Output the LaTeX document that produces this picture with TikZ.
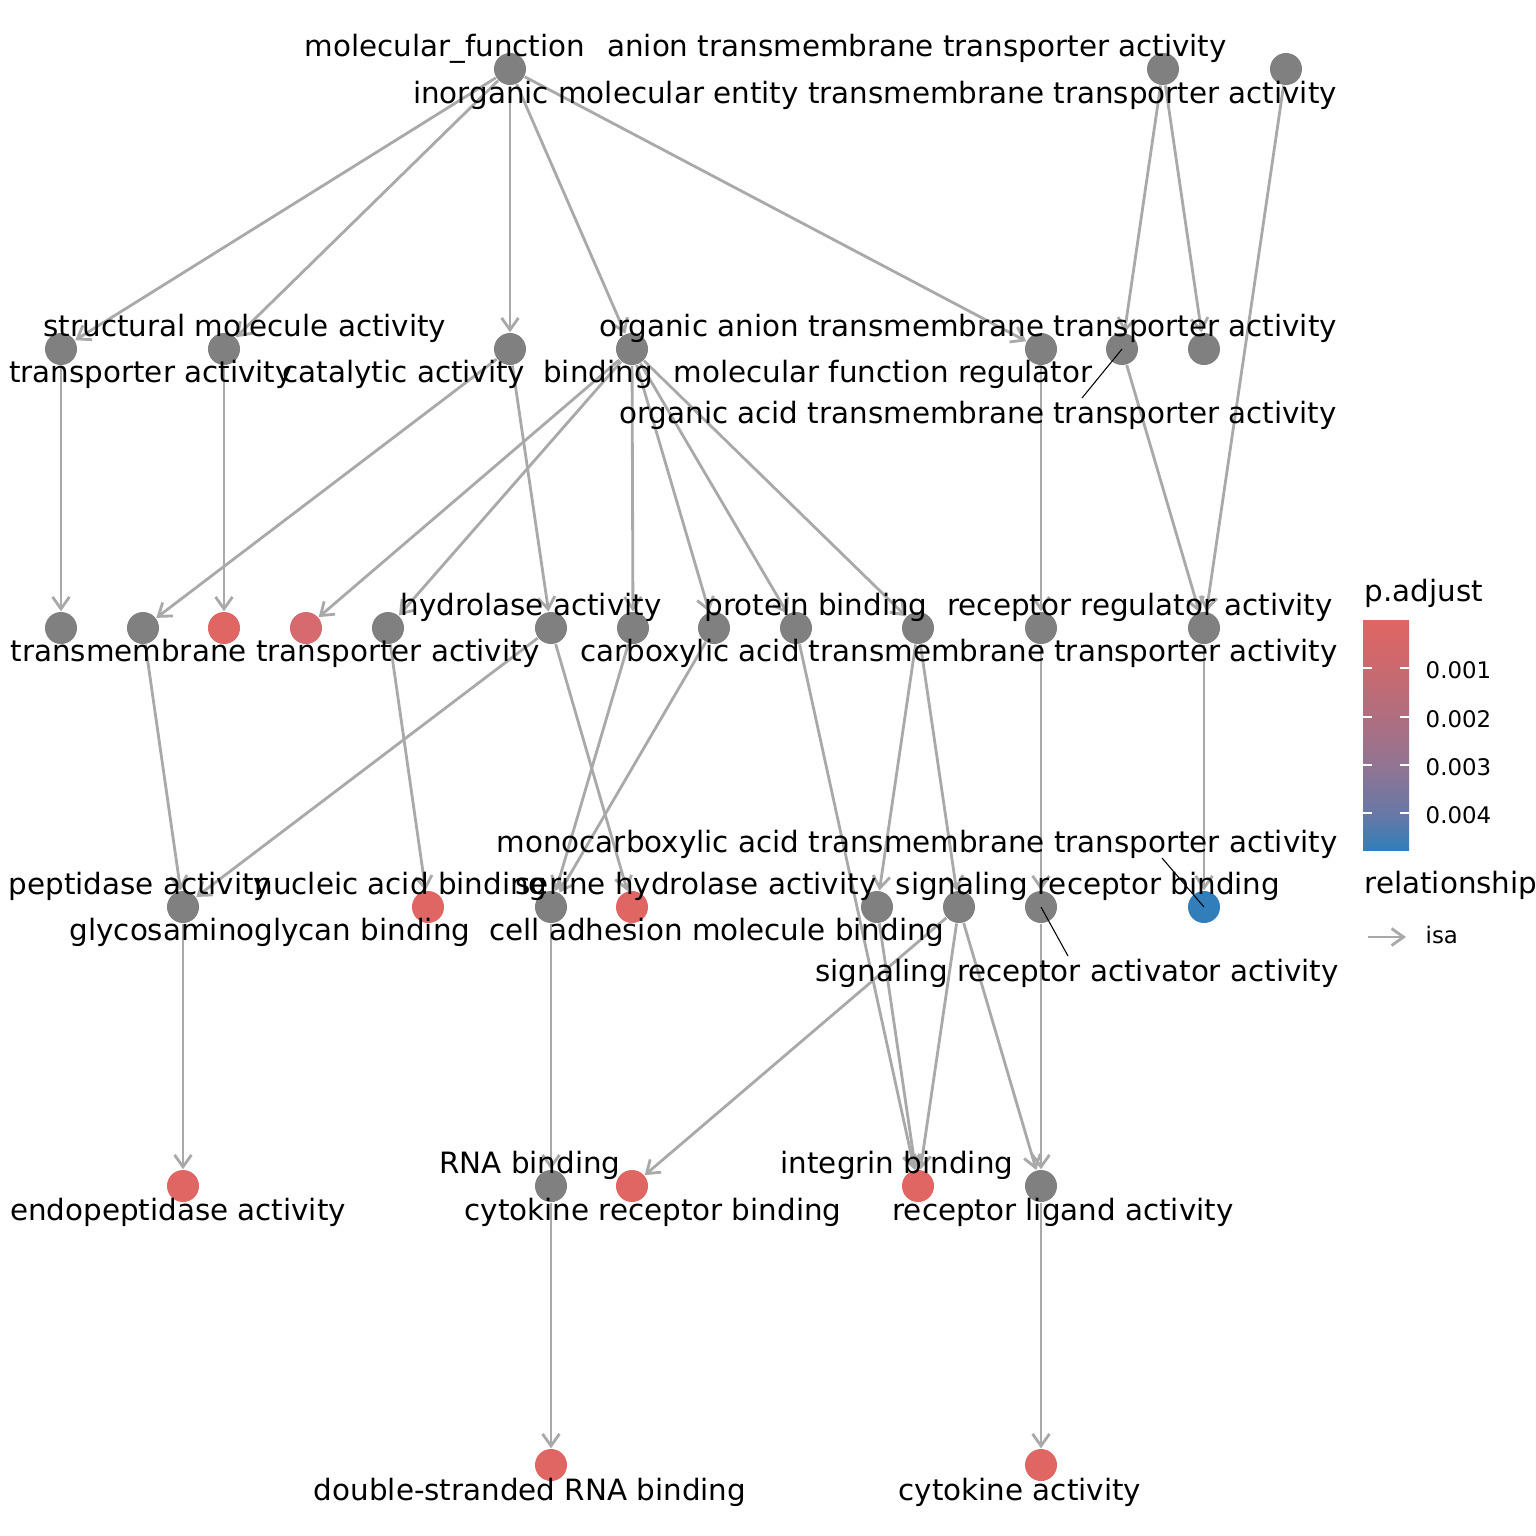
\documentclass[tikz,border=0pt]{standalone}
\usepackage{fontspec}
\setmainfont{DejaVu Sans}
\usetikzlibrary{arrows.meta,backgrounds}
\definecolor{nodegray}{HTML}{808080}
\definecolor{edgegray}{HTML}{A9A9A9}
\definecolor{sigred}{HTML}{E06663}
\definecolor{sigpink}{HTML}{D76A6F}
\definecolor{sigblue}{HTML}{327EBA}
\definecolor{barA}{RGB}{104,120,166}
\definecolor{barB}{RGB}{146,116,147}
\definecolor{barC}{RGB}{175,110,128}
\definecolor{barD}{RGB}{202,105,111}
\pgfdeclareverticalshading{pbar}{100bp}{color(0bp)=(sigblue); color(25bp)=(sigblue); color(33bp)=(barA); color(43.5bp)=(barB); color(54bp)=(barC); color(64.5bp)=(barD); color(75bp)=(sigred); color(100bp)=(sigred)}
\begin{document}
\begin{tikzpicture}[x=0.01cm,y=-0.01cm,
  term/.style={circle,fill=nodegray,minimum size=0.32cm,inner sep=0pt},
  red/.style={fill=sigred},
  lbl/.style={anchor=base,inner sep=0pt,font=\fontsize{8.35}{10}\selectfont},
  leglbl/.style={anchor=base west,inner sep=0pt,font=\fontsize{8.35}{10}\selectfont},
  ticklbl/.style={anchor=base west,inner sep=0pt,font=\fontsize{6.5}{8}\selectfont},
  edge/.style={draw=edgegray,line width=0.8pt,-{Straight Barb[length=3.4pt,width=4.8pt]}},
  leader/.style={draw=black,line width=0.3pt},
  tickmark/.style={draw=white,line width=0.3pt}
  ]
\useasboundingbox (0,0) rectangle (1536,1536);
% ---------- nodes ----------
% layer 0
\node[term] (mf)    at (510,69) {};
\node[term] (ant)   at (1163,69) {};
\node[term] (inorg) at (1286,69) {};
% layer 1
\node[term] (a1) at (61,349) {};
\node[term] (a2) at (224,349) {};
\node[term] (a3) at (510,349) {};
\node[term] (a4) at (632,349) {};
\node[term] (a5) at (1041,349) {};
\node[term] (a6) at (1122,349) {};
\node[term] (a7) at (1204,349) {};
% layer 2
\node[term] (b1) at (61,628) {};
\node[term] (b2) at (143,628) {};
\node[term,red] (b3) at (224,628) {};
\node[term,fill=sigpink] (b4) at (306,628) {};
\node[term] (b5) at (388,628) {};
\node[term] (b6) at (551,628) {};
\node[term] (b7) at (633,628) {};
\node[term] (b8) at (714,628) {};
\node[term] (b9) at (796,628) {};
\node[term] (b10) at (918,628) {};
\node[term] (b11) at (1041,628) {};
\node[term] (b12) at (1204,628) {};
% layer 3
\node[term] (c1) at (183,907) {};
\node[term,red] (c2) at (428,907) {};
\node[term] (c3) at (551,907) {};
\node[term,red] (c4) at (632,907) {};
\node[term] (c5) at (877,907) {};
\node[term] (c6) at (959,907) {};
\node[term] (c7) at (1041,907) {};
\node[term,fill=sigblue] (c8) at (1204,907) {};
% layer 4
\node[term,red] (d1) at (183,1186) {};
\node[term] (d2) at (551,1186) {};
\node[term,red] (d3) at (632,1186) {};
\node[term,red] (d4) at (918,1186) {};
\node[term] (d5) at (1041,1186) {};
% layer 5
\node[term,red] (e1) at (551,1465) {};
\node[term,red] (e2) at (1041,1465) {};
% ---------- edges ----------
\begin{scope}[on background layer]
\foreach \t in {a1,a2,a3,a4,a5} \draw[edge] (mf) -- (\t);
\draw[edge] (ant) -- (a6);
\draw[edge] (ant) -- (a7);
\draw[edge] (inorg) -- (b12);
\draw[edge] (a1) -- (b1);
\draw[edge] (a2) -- (b3);
\draw[edge] (a3) -- (b2);
\draw[edge] (a3) -- (b6);
\foreach \t in {b4,b5,b7,b8,b9,b10} \draw[edge] (a4) -- (\t);
\draw[edge] (a5) -- (b11);
\draw[edge] (a6) -- (b12);
\draw[edge] (b2) -- (c1);
\draw[edge] (b5) -- (c2);
\draw[edge] (b6) -- (c1);
\draw[edge] (b6) -- (c4);
\draw[edge] (b7) -- (c3);
\draw[edge] (b8) -- (c3);
\draw[edge] (b9) -- (d4);
\draw[edge] (b10) -- (c5);
\draw[edge] (b10) -- (c6);
\draw[edge] (b11) -- (c7);
\draw[edge] (b12) -- (c8);
\draw[edge] (c1) -- (d1);
\draw[edge] (c3) -- (d2);
\draw[edge] (c5) -- (d4);
\draw[edge] (c6) -- (d3);
\draw[edge] (c6) -- (d4);
\draw[edge] (c6) -- (d5);
\draw[edge] (c7) -- (d5);
\draw[edge] (d2) -- (e1);
\draw[edge] (d5) -- (e2);
\end{scope}
% ---------- labels ----------
\node[lbl] (l1)  at (445,56)  {molecular\_function};
\node[lbl] (l2)  at (917,56)  {anion transmembrane transporter activity};
\node[lbl] (l3)  at (875,103) {inorganic molecular entity transmembrane transporter activity};
\node[lbl] (l4)  at (245,336) {structural molecule activity};
\node[lbl] (l5)  at (968,336) {organic anion transmembrane transporter activity};
\node[lbl] (l6)  at (151,382) {transporter activity};
\node[lbl] (l7)  at (404,382) {catalytic activity};
\node[lbl] (l8)  at (598,382) {binding};
\node[lbl] (l9)  at (883,382) {molecular function regulator};
\node[lbl] (l10) at (978,423) {organic acid transmembrane transporter activity};
\node[lbl] (l11) at (531,615) {hydrolase activity};
\node[lbl] (l12) at (816,615) {protein binding};
\node[lbl] (l13) at (1140,615) {receptor regulator activity};
\node[lbl] (l14) at (275,661) {transmembrane transporter activity};
\node[lbl] (l15) at (959,661) {carboxylic acid transmembrane transporter activity};
\node[lbl] (l16) at (917,852) {monocarboxylic acid transmembrane transporter activity};
\node[lbl] (l17) at (140,894) {peptidase activity};
\node[lbl] (l18) at (401,894) {nucleic acid binding};
\node[lbl] (l19) at (696,894) {serine hydrolase activity};
\node[lbl] (l20) at (1088,894) {signaling receptor binding};
\node[lbl] (l21) at (270,940) {glycosaminoglycan binding};
\node[lbl] (l22) at (717,940) {cell adhesion molecule binding};
\node[lbl] (l23) at (1077,981) {signaling receptor activator activity};
\node[lbl] (l24) at (530,1173) {RNA binding};
\node[lbl] (l25) at (897,1173) {integrin binding};
\node[lbl] (l26) at (178,1220) {endopeptidase activity};
\node[lbl] (l27) at (653,1220) {cytokine receptor binding};
\node[lbl] (l28) at (1063,1220) {receptor ligand activity};
\node[lbl] (l29) at (530,1500) {double-stranded RNA binding};
\node[lbl] (l30) at (1020,1500) {cytokine activity};
% leader segments
\coordinate (s10) at (1082,398);
\coordinate (s16) at (1162,858);
\coordinate (s23) at (1068,956);
\draw[leader] (s10) -- (a6.center);
\draw[leader] (s16) -- (c8.center);
\draw[leader] (s23) -- (c7.center);
% ---------- legend ----------
\node[leglbl] (ptitle) at (1364,601) {p.adjust};
\coordinate (barTL) at (1363,620);
\coordinate (barBR) at (1409,850);
\shade[shading=pbar] (barTL) rectangle (barBR);
\foreach \yy/\tx in {668/0.001,717/0.002,765/0.003,813/0.004} {
  \draw[tickmark] (1363,\yy) -- (1372,\yy);
  \draw[tickmark] (1400,\yy) -- (1409,\yy);
  \node[ticklbl] at (1425,\yy+10) {\tx};
}
\node[leglbl] (rtitle) at (1364,893) {relationship};
\coordinate (isaA) at (1368,937);
\coordinate (isaB) at (1406,937);
\draw[edge] (isaA) -- (isaB);
\node[ticklbl] (isa) at (1425,943) {isa};
\end{tikzpicture}
\end{document}
